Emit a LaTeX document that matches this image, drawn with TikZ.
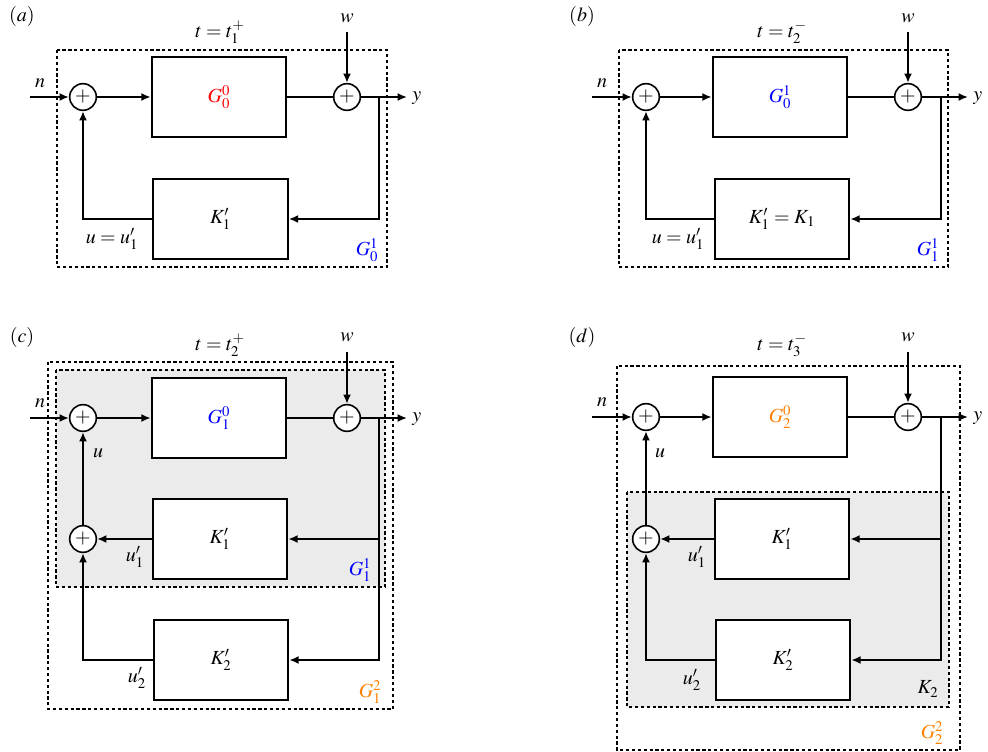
\documentclass[tikz,border=0pt]{standalone}
\usepackage{mathptmx}
\usetikzlibrary{arrows.meta}
\definecolor{myorange}{RGB}{255,127,0}
\definecolor{mygray}{RGB}{235,235,235}
\tikzset{
  every node/.style={font=\fontsize{15}{18}\selectfont},
  blk/.style={draw, line width=1.4pt, fill=white, minimum width=101pt, minimum height=60pt, inner sep=0pt},
  sumn/.style={draw, circle, line width=1.2pt, fill=white, minimum size=20pt, inner sep=0pt},
  sig/.style={line width=1.4pt, -{Latex[length=7pt,width=6pt]}},
  wire/.style={line width=1.4pt},
  dbox/.style={line width=1.25pt, dash pattern=on 2.4pt off 2pt},
  lbl/.style={inner sep=0pt}
}
\begin{document}
\begin{tikzpicture}[x=0.75pt,y=-0.75pt]
\useasboundingbox (0,0) rectangle (988,752);

% ================= panel (a) =================
\node[lbl] (la) at (22,17) {$(a)$};
\node[lbl] (ta) at (220,32) {$t=t_1^+$};
\draw[dbox] (57,50) rectangle (387,267);
\node[blk] (Ga) at (219,97) {\textcolor{red}{$G_0^0$}};
\node[blk] (Ka) at (220.5,219) {$K_1'$};
\node[sumn] (s1a) at (83,97) {$+$};
\node[sumn] (s2a) at (347,97) {$+$};
\coordinate (na) at (30,97);
\coordinate (ya) at (407,97);
\coordinate (wa) at (347,32);
\coordinate (tapa) at (379,97);
\node[lbl] (nla) at (40,83) {$n$};
\node[lbl,anchor=west] (yla) at (412,98) {$y$};
\node[lbl] (wla) at (347,18) {$w$};
\draw[sig] (na) -- (s1a);
\draw[sig] (s1a) -- (Ga);
\draw[wire] (Ga) -- (s2a);
\draw[sig] (s2a) -- (ya);
\draw[sig] (wa) -- (s2a);
\draw[sig] (tapa) |- (Ka.east);
\draw[sig] (Ka.west) -| (s1a);
\node[lbl] (ua) at (112,239) {$u=u_1'$};
\node[lbl] (Gla) at (367,250) {\textcolor{blue}{$G_0^1$}};

% ================= panel (b) =================
\node[lbl] (lb) at (582,17) {$(b)$};
\node[lbl] (tb) at (782,32) {$t=t_2^-$};
\draw[dbox] (619,50) rectangle (948,267);
\node[blk] (Gb) at (780,97) {\textcolor{blue}{$G_0^1$}};
\node[blk] (Kb) at (782,219) {$K_1'=K_1$};
\node[sumn] (s1b) at (646,97) {$+$};
\node[sumn] (s2b) at (908,97) {$+$};
\coordinate (nb) at (592,97);
\coordinate (yb) at (968,97);
\coordinate (wb) at (908,32);
\coordinate (tapb) at (941,97);
\node[lbl] (nlb) at (602,83) {$n$};
\node[lbl,anchor=west] (ylb) at (973,98) {$y$};
\node[lbl] (wlb) at (908,18) {$w$};
\draw[sig] (nb) -- (s1b);
\draw[sig] (s1b) -- (Gb);
\draw[wire] (Gb) -- (s2b);
\draw[sig] (s2b) -- (yb);
\draw[sig] (wb) -- (s2b);
\draw[sig] (tapb) |- (Kb.east);
\draw[sig] (Kb.west) -| (s1b);
\node[lbl] (ub) at (678,239) {$u=u_1'$};
\node[lbl] (Glb) at (928,250) {\textcolor{blue}{$G_1^1$}};

% ================= panel (c) =================
\node[lbl] (lc) at (22,337) {$(c)$};
\node[lbl] (tc) at (220,345) {$t=t_2^+$};
\fill[mygray] (56,370) rectangle (385,587);
\draw[dbox] (56,370) rectangle (385,587);
\draw[dbox] (48,362) rectangle (393,709);
\node[blk] (Gc) at (219,418) {\textcolor{blue}{$G_1^0$}};
\node[blk] (K1c) at (220,539) {$K_1'$};
\node[blk] (K2c) at (221,660) {$K_2'$};
\node[sumn] (s1c) at (83,418) {$+$};
\node[sumn] (s2c) at (347,418) {$+$};
\node[sumn] (s3c) at (83,539) {$+$};
\coordinate (nc) at (30,418);
\coordinate (yc) at (407,418);
\coordinate (wc) at (347,352);
\coordinate (tapc) at (379,418);
\node[lbl] (nlc) at (40,403) {$n$};
\node[lbl,anchor=west] (ylc) at (412,419) {$y$};
\node[lbl] (wlc) at (347,337) {$w$};
\draw[sig] (nc) -- (s1c);
\draw[sig] (s1c) -- (Gc);
\draw[wire] (Gc) -- (s2c);
\draw[sig] (s2c) -- (yc);
\draw[sig] (wc) -- (s2c);
\draw[sig] (tapc) |- (K1c.east);
\draw[sig] (tapc) |- (K2c.east);
\draw[sig] (K1c.west) -- (s3c);
\draw[sig] (K2c.west) -| (s3c);
\draw[sig] (s3c) -- (s1c);
\node[lbl] (uc) at (98,453) {$u$};
\node[lbl] (u1c) at (135,557) {$u_1'$};
\node[lbl] (u2c) at (137,678) {$u_2'$};
\node[lbl] (G1c) at (360,570) {\textcolor{blue}{$G_1^1$}};
\node[lbl] (G2c) at (370,692) {\textcolor{myorange}{$G_1^2$}};

% ================= panel (d) =================
\node[lbl] (ld) at (582,337) {$(d)$};
\node[lbl] (td) at (782,345) {$t=t_3^-$};
\fill[mygray] (627,492) rectangle (949,707);
\draw[dbox] (627,492) rectangle (949,707);
\draw[dbox] (617,366) rectangle (960,750);
\node[blk] (Gd) at (780,417) {\textcolor{myorange}{$G_2^0$}};
\node[blk] (K1d) at (782,539) {$K_1'$};
\node[blk] (K2d) at (783,660) {$K_2'$};
\node[sumn] (s1d) at (646,417) {$+$};
\node[sumn] (s2d) at (908,417) {$+$};
\node[sumn] (s3d) at (646,539) {$+$};
\coordinate (nd) at (592,417);
\coordinate (yd) at (968,417);
\coordinate (wd) at (908,352);
\coordinate (tapd) at (941,417);
\node[lbl] (nld) at (602,402) {$n$};
\node[lbl,anchor=west] (yld) at (973,418) {$y$};
\node[lbl] (wld) at (908,337) {$w$};
\draw[sig] (nd) -- (s1d);
\draw[sig] (s1d) -- (Gd);
\draw[wire] (Gd) -- (s2d);
\draw[sig] (s2d) -- (yd);
\draw[sig] (wd) -- (s2d);
\draw[sig] (tapd) |- (K1d.east);
\draw[sig] (tapd) |- (K2d.east);
\draw[sig] (K1d.west) -- (s3d);
\draw[sig] (K2d.west) -| (s3d);
\draw[sig] (s3d) -- (s1d);
\node[lbl] (ud) at (660,453) {$u$};
\node[lbl] (u1d) at (697,557) {$u_1'$};
\node[lbl] (u2d) at (692,680) {$u_2'$};
\node[lbl] (K2ld) at (928,689) {$K_2$};
\node[lbl] (G2d) at (932,733) {\textcolor{myorange}{$G_2^2$}};
\end{tikzpicture}
\end{document}
